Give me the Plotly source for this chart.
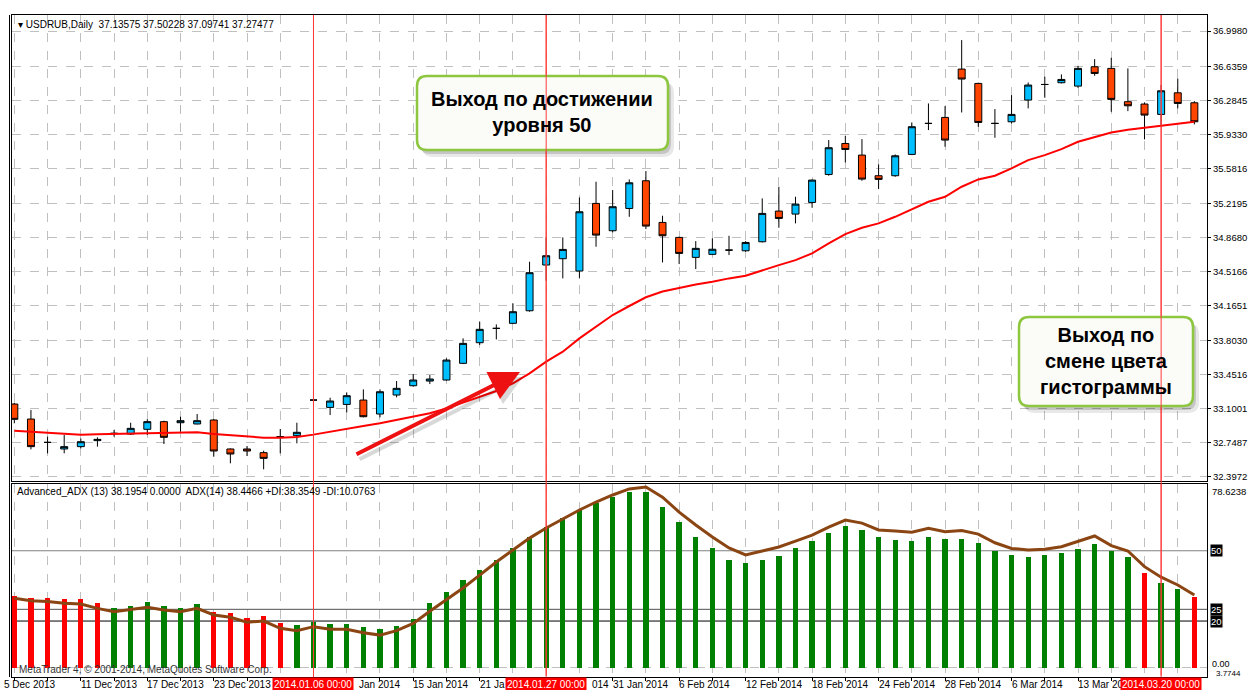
import plotly.graph_objects as go

# ---------------- DATA ----------------
bar_index = list(range(72))

open_ = [33.148, 32.993, 32.752, 32.684, 32.708, 32.770, 32.845, 32.838, 32.887, 32.966,
         32.955, 32.942, 32.983, 32.684, 32.684, 32.646, 32.804, 32.821, 33.189, 33.113,
         33.144, 33.189, 33.045, 33.241, 33.337, 33.385, 33.396, 33.568, 33.781, 33.929,
         33.981, 34.111, 34.583, 34.648, 34.521, 35.219, 34.937, 35.167, 35.453, 35.023,
         34.868, 34.662, 34.693, 34.737, 34.730, 34.823, 35.140, 35.109, 35.229, 35.518,
         35.838, 35.718, 35.505, 35.505, 35.725, 36.045, 36.107, 36.606, 36.458, 36.045,
         36.062, 36.286, 36.447, 36.465, 36.430, 36.630, 36.613, 36.269, 36.245, 36.138,
         36.361, 36.258]
high = [33.161, 33.086, 32.811, 32.828, 32.794, 32.804, 32.880, 32.955, 32.990, 32.976,
        33.017, 33.045, 32.993, 32.690, 32.715, 32.666, 32.890, 32.955, 33.293, 33.213,
        33.268, 33.299, 33.299, 33.385, 33.458, 33.447, 33.619, 33.826, 33.998, 33.970,
        34.187, 34.617, 34.868, 34.868, 35.281, 35.443, 35.357, 35.467, 35.553, 35.092,
        34.875, 34.830, 34.858, 34.885, 34.830, 35.271, 35.391, 35.288, 35.467, 35.873,
        35.918, 35.883, 35.622, 35.725, 36.055, 36.251, 36.224, 36.905, 36.465, 36.193,
        36.337, 36.468, 36.527, 36.551, 36.640, 36.709, 36.723, 36.613, 36.262, 36.441,
        36.509, 36.275]
low = [32.949, 32.680, 32.639, 32.639, 32.690, 32.708, 32.811, 32.828, 32.828, 32.735,
       32.862, 32.938, 32.604, 32.536, 32.611, 32.474, 32.639, 32.742, 33.138, 33.034,
       33.062, 33.010, 33.010, 33.217, 33.327, 33.354, 33.389, 33.561, 33.757, 33.815,
       33.974, 34.101, 34.421, 34.445, 34.445, 34.772, 34.920, 35.081, 34.954, 34.610,
       34.593, 34.541, 34.686, 34.686, 34.720, 34.816, 34.968, 35.013, 35.174, 35.505,
       35.642, 35.453, 35.367, 35.494, 35.718, 35.976, 35.804, 36.158, 36.010, 35.897,
       36.045, 36.200, 36.310, 36.458, 36.413, 36.537, 36.165, 36.172, 35.880, 36.010,
       36.200, 36.035]
close = [32.990, 32.708, 32.752, 32.708, 32.759, 32.783, 32.845, 32.897, 32.966, 32.804,
         32.976, 32.976, 32.663, 32.632, 32.663, 32.587, 32.811, 32.856, 33.189, 33.179,
         33.234, 33.017, 33.275, 33.310, 33.396, 33.406, 33.602, 33.774, 33.919, 33.929,
         34.101, 34.504, 34.679, 34.744, 35.133, 34.892, 35.185, 35.432, 34.985, 34.885,
         34.703, 34.755, 34.746, 34.737, 34.816, 35.116, 35.064, 35.212, 35.460, 35.794,
         35.776, 35.470, 35.467, 35.711, 36.011, 36.045, 35.873, 36.503, 36.055, 36.045,
         36.138, 36.441, 36.447, 36.499, 36.613, 36.561, 36.293, 36.227, 36.131, 36.382,
         36.251, 36.062]
ma = [32.873, 32.863, 32.852, 32.839, 32.832, 32.835, 32.839, 32.842, 32.845, 32.852,
      32.856, 32.856, 32.839, 32.825, 32.811, 32.801, 32.801, 32.808, 32.832, 32.863,
      32.897, 32.921, 32.949, 32.983, 33.017, 33.052, 33.103, 33.162, 33.217, 33.282,
      33.361, 33.465, 33.585, 33.688, 33.826, 33.947, 34.067, 34.160, 34.250, 34.310,
      34.350, 34.383, 34.410, 34.445, 34.472, 34.531, 34.582, 34.634, 34.703, 34.806,
      34.902, 34.968, 35.013, 35.081, 35.161, 35.236, 35.288, 35.391, 35.467, 35.505,
      35.580, 35.666, 35.718, 35.780, 35.856, 35.907, 35.952, 35.980, 36.000, 36.021,
      36.041, 36.062]
adx_hist = [30.7, 29.7, 29.7, 29.3, 29.3, 27.6, 25.7, 26.5, 28.3, 26.5,
            25.7, 27.1, 23.7, 23.4, 21.2, 22.2, 19.0, 18.3, 19.5, 18.7,
            18.7, 17.3, 16.5, 17.9, 20.7, 27.7, 32.4, 37.5, 41.8, 46.0,
            51.2, 55.9, 60.1, 64.0, 67.4, 70.4, 72.9, 75.1, 75.1, 68.7,
            62.3, 55.9, 51.2, 46.0, 44.8, 46.0, 47.8, 51.2, 54.1, 57.6,
            60.6, 58.8, 55.9, 54.6, 54.3, 56.0, 55.0, 55.0, 53.4, 50.0,
            48.2, 47.5, 48.0, 48.9, 50.6, 52.9, 50.0, 47.2, 40.4, 36.4,
            33.7, 30.1]
adx_line = [29.7, 28.7, 28.3, 27.6, 27.3, 25.4, 24.0, 25.0, 25.9, 24.7,
            24.0, 25.4, 22.6, 21.6, 19.5, 20.0, 16.9, 15.9, 17.6, 16.5,
            16.5, 15.0, 14.0, 15.9, 19.0, 24.2, 29.0, 34.1, 39.6, 45.2,
            50.3, 55.4, 59.7, 63.5, 67.4, 70.8, 73.8, 76.4, 77.2, 72.9,
            66.5, 61.0, 55.9, 51.2, 48.2, 49.9, 51.6, 54.1, 56.7, 60.1,
            63.1, 61.8, 58.9, 58.4, 57.9, 59.6, 58.1, 58.6, 57.1, 53.4,
            51.0, 50.3, 50.6, 51.7, 53.9, 56.3, 52.2, 49.9, 43.2, 38.7,
            35.4, 31.1]
hist_up = [False] * 6 + [True] * 6 + [False] * 5 + [True] * 51 + [False, True, True, False]

price_ticks = [36.9980, 36.6359, 36.2845, 35.9330, 35.5816, 35.2195, 34.8680,
               34.5166, 34.1651, 33.8030, 33.4516, 33.1001, 32.7487, 32.3972]
first_date_label = "5 Dec 2013"
date_label_idx = [4, 8, 12, 24, 28, 36, 40, 44, 48, 52, 56, 60, 64]
date_labels = ["11 Dec 2013", "17 Dec 2013", "23 Dec 2013", "15 Jan 2014",
               "21 Ja", "31 Jan 2014", "6 Feb 2014", "12 Feb 2014", "18 Feb 2014",
               "24 Feb 2014", "28 Feb 2014", "6 Mar 2014", "13 Mar 20"]
tail_label_idx = [18, 32]
tail_labels = ["Jan 2014", "014"]
vline_idx = [18, 32, 69]
vline_labels = ["2014.01.06 00:00", "2014.01.27 00:00", "2014.03.20 00:00"]
adx_levels = [50, 25, 20]
adx_level_colors = ["#808080", "#505050", "#000000"]

# ---------------- LAYOUT HELPERS ----------------
W, H = 1248, 690
ML, MR, MT, MB = 12, 41, 15, 13
PW, PH = W - ML - MR, H - MT - MB
FONT = "Liberation Sans"
BAR_PX = PW / (71.76 + 0.14)


def PX(px):
    return (px - ML) / PW


def PY(py):
    return (H - MB - py) / PH


def rrect(x0, y0, x1, y1, r):
    pts = [
        f"M{PX(x0 + r)},{PY(y0)}", f"L{PX(x1 - r)},{PY(y0)}",
        f"Q{PX(x1)},{PY(y0)} {PX(x1)},{PY(y0 + r)}", f"L{PX(x1)},{PY(y1 - r)}",
        f"Q{PX(x1)},{PY(y1)} {PX(x1 - r)},{PY(y1)}", f"L{PX(x0 + r)},{PY(y1)}",
        f"Q{PX(x0)},{PY(y1)} {PX(x0)},{PY(y1 - r)}", f"L{PX(x0)},{PY(y0 + r)}",
        f"Q{PX(x0)},{PY(y0)} {PX(x0 + r)},{PY(y0)}", "Z"]
    return " ".join(pts)


xr = [-0.14, 71.76]
BOT = H - MB
top_dom = [PY(481), 1]
bot_dom = [0, PY(484)]
price_range = [32.7487 + (442.7 - 481) * 0.010324, 32.7487 + (442.7 - 15) * 0.010324]
adx_range = [(667.9 - BOT) / 2.343, (667.9 - 484) / 2.343]

fig = go.Figure()

vx, vy, vy2 = [], [], []
for vi in vline_idx:
    vx += [vi, vi, None]
    vy += [price_range[0], price_range[1], None]
    vy2 += [adx_range[0], adx_range[1], None]
fig.add_trace(go.Scatter(x=vx, y=vy, mode="lines", line=dict(color="#ff3a3a", width=1),
                         xaxis="x", yaxis="y", showlegend=False, hoverinfo="skip"))
fig.add_trace(go.Scatter(x=vx, y=vy2, mode="lines", line=dict(color="#ff3a3a", width=1),
                         xaxis="x2", yaxis="y2", showlegend=False, hoverinfo="skip"))

fig.add_trace(go.Candlestick(
    x=bar_index, open=open_, high=high, low=low, close=close,
    increasing=dict(fillcolor="#00BFFF", line=dict(color="#000000", width=1)),
    decreasing=dict(fillcolor="#FF4500", line=dict(color="#000000", width=1)),
    xaxis="x", yaxis="y", showlegend=False, hoverinfo="skip"))

fig.add_trace(go.Scatter(x=bar_index, y=ma, mode="lines",
                         line=dict(color="#FF0000", width=2),
                         xaxis="x", yaxis="y", showlegend=False, hoverinfo="skip"))

fig.add_trace(go.Bar(x=bar_index, y=adx_hist, width=0.32,
                     marker=dict(color=["#008000" if u else "#FF0000" for u in hist_up],
                                 line=dict(width=0)),
                     xaxis="x2", yaxis="y2", showlegend=False, hoverinfo="skip"))

fig.add_trace(go.Scatter(x=bar_index, y=adx_line, mode="lines",
                         line=dict(color="#8B4513", width=3),
                         xaxis="x2", yaxis="y2", showlegend=False, hoverinfo="skip"))

grid = dict(showgrid=True, gridcolor="#c0c0c0", griddash="dash", gridwidth=1, automargin=False)
fig.update_layout(
    template="none",
    width=W, height=H, margin=dict(l=ML, r=MR, t=MT, b=MB, autoexpand=False),
    paper_bgcolor="white", plot_bgcolor="white", boxgap=0.4, hovermode=False,
    font=dict(family=FONT, size=10, color="black"),
    xaxis=dict(domain=[0, 1], anchor="y", range=xr, tickvals=list(range(0, 72, 2)),
               showticklabels=False, ticks="", zeroline=False, showline=True,
               linecolor="black", linewidth=1, mirror=True, showspikes=False,
               rangeslider=dict(visible=False), **grid),
    yaxis=dict(domain=top_dom, anchor="x", side="right", range=price_range,
               tickvals=price_ticks, ticktext=[f"{v:.4f}" for v in price_ticks],
               ticks="outside", ticklen=3, tickcolor="black", zeroline=False,
               showline=True, linecolor="black", linewidth=1, mirror=True,
               tickfont=dict(family=FONT, size=9.5, color="black"), **grid),
    xaxis2=dict(domain=[0, 1], anchor="y2", range=xr, tickvals=list(range(0, 72, 2)),
                showticklabels=False, ticks="outside", ticklen=3, tickcolor="black",
                zeroline=False, showline=True, linecolor="black", linewidth=1,
                mirror=True, showspikes=False, **grid),
    yaxis2=dict(domain=bot_dom, anchor="x2", side="right", range=adx_range,
                tickvals=[0], showticklabels=False, ticks="", zeroline=False,
                showline=True, linecolor="black", linewidth=1, mirror=True, **grid),
    bargap=0, showlegend=False,
)

shapes = []
for lv, col in zip(adx_levels, adx_level_colors):
    shapes.append(dict(type="line", xref="x2 domain", yref="y2", x0=0, x1=1, y0=lv, y1=lv,
                       line=dict(color=col, width=1), layer="below"))
shapes.append(dict(type="line", xref="paper", yref="paper", x0=PX(9.5), x1=PX(9.5),
                   y0=0, y1=1, line=dict(color="black", width=1)))

boxes = [(417, 76, 668, 150), (1019, 317, 1193, 406)]
for (x0, y0, x1, y1) in boxes:
    shapes.append(dict(type="path", xref="paper", yref="paper",
                       path=rrect(x0 + 5, y0 + 6, x1 + 6, y1 + 7, 11),
                       fillcolor="rgba(0,0,0,0.09)", line=dict(width=0)))
    shapes.append(dict(type="path", xref="paper", yref="paper",
                       path=rrect(x0 + 3, y0 + 4, x1 + 3, y1 + 4, 10),
                       fillcolor="rgba(0,0,0,0.15)", line=dict(width=0)))
    shapes.append(dict(type="path", xref="paper", yref="paper",
                       path=rrect(x0, y0, x1, y1, 10),
                       fillcolor="#fbfbf8", line=dict(color="#8dc63f", width=2.5)))
fig.update_layout(shapes=shapes)

ann = []
# red crosshair lines repeated in the annotation layer so nothing covers them
for vi in vline_idx:
    ann.append(dict(xref="x", yref="paper", x=vi, y=1, axref="pixel", ayref="pixel",
                    ax=0, ay=PH, text="", showarrow=True, arrowhead=0, arrowwidth=1,
                    arrowcolor="#ff3a3a", standoff=0, startstandoff=0))
ann.append(dict(xref="paper", yref="paper", x=PX(16), y=PY(25), xanchor="left", yanchor="middle",
                text="▾ USDRUB,Daily  37.13575 37.50228 37.09741 37.27477", showarrow=False,
                font=dict(family=FONT, size=10, color="black")))
ann.append(dict(xref="paper", yref="paper", x=PX(15), y=PY(491), xanchor="left", yanchor="middle",
                text="Advanced_ADX (13) 38.1954 0.0000  ADX(14) 38.4466 +DI:38.3549 -DI:10.0763",
                showarrow=False, font=dict(family=FONT, size=10, color="black")))
ann.append(dict(xref="paper", yref="paper", x=PX(17), y=PY(669), xanchor="left", yanchor="middle",
                text="MetaTrader 4, © 2001-2014, MetaQuotes Software Corp.", showarrow=False,
                font=dict(family=FONT, size=10, color="#333333")))

RX = PX(1210)
ann.append(dict(xref="paper", yref="y2", x=RX, y=adx_range[1], xanchor="left", yanchor="top",
                text="78.6238", showarrow=False, font=dict(family=FONT, size=9.5, color="black")))
for lv in adx_levels:
    ann.append(dict(xref="paper", yref="y2", x=RX, y=lv, xanchor="left", yanchor="middle",
                    text=str(lv), showarrow=False, bgcolor="black", borderpad=0,
                    font=dict(family=FONT, size=9.5, color="white")))
ann.append(dict(xref="paper", yref="paper", x=RX, y=PY(664), xanchor="left", yanchor="middle",
                text="0.00", showarrow=False, font=dict(family=FONT, size=9, color="black")))
ann.append(dict(xref="paper", yref="paper", x=PX(1214), y=PY(673.5), xanchor="left", yanchor="middle",
                text="3.7744", showarrow=False, font=dict(family=FONT, size=8, color="black")))

LBL_Y = PY(684)
ann.append(dict(xref="paper", yref="paper", x=PX(2), y=LBL_Y, xanchor="left", yanchor="middle",
                text=first_date_label, showarrow=False,
                font=dict(family=FONT, size=10, color="black")))
for i, t in zip(date_label_idx, date_labels):
    ann.append(dict(xref="x2", yref="paper", x=i - 0.12, y=LBL_Y, xanchor="left", yanchor="middle",
                    text=t, showarrow=False, font=dict(family=FONT, size=10, color="black")))
for i, t in zip(tail_label_idx, tail_labels):
    ann.append(dict(xref="x2", yref="paper", x=i + 44 / BAR_PX, y=LBL_Y, xanchor="left",
                    yanchor="middle", text=t, showarrow=False,
                    font=dict(family=FONT, size=10, color="black")))
for vi, t in zip(vline_idx, vline_labels):
    ann.append(dict(xref="x2", yref="paper", x=vi, y=LBL_Y, xanchor="center", yanchor="middle",
                    text=t, showarrow=False, bgcolor="#ff0000", borderpad=1,
                    font=dict(family=FONT, size=10, color="white")))

ann.append(dict(xref="paper", yref="paper", x=PX(542), y=PY(112), xanchor="center", yanchor="middle",
                text="Выход по достижении<br>уровня 50", showarrow=False, align="center",
                font=dict(family=FONT, size=20, color="black", weight="bold")))
ann.append(dict(xref="paper", yref="paper", x=PX(1106), y=PY(361), xanchor="center", yanchor="middle",
                text="Выход по<br>смене цвета<br>гистограммы", showarrow=False, align="center",
                font=dict(family=FONT, size=20, color="black", weight="bold")))

ann.append(dict(xref="paper", yref="paper", x=PX(523), y=PY(377), ax=-165, ay=83,
                text="", showarrow=True, arrowhead=2, arrowsize=1.5, arrowwidth=4,
                arrowcolor="rgba(0,0,0,0.15)", standoff=0))
ann.append(dict(xref="paper", yref="paper", x=PX(520), y=PY(372), ax=-165, ay=83,
                text="", showarrow=True, arrowhead=2, arrowsize=1.5, arrowwidth=4,
                arrowcolor="#ee1111", standoff=0))
fig.update_layout(annotations=ann)

fig.write_html("out.html", config={"displayModeBar": False, "staticPlot": True},
               post_script="document.body.style.margin='0';document.body.style.padding='0';")
